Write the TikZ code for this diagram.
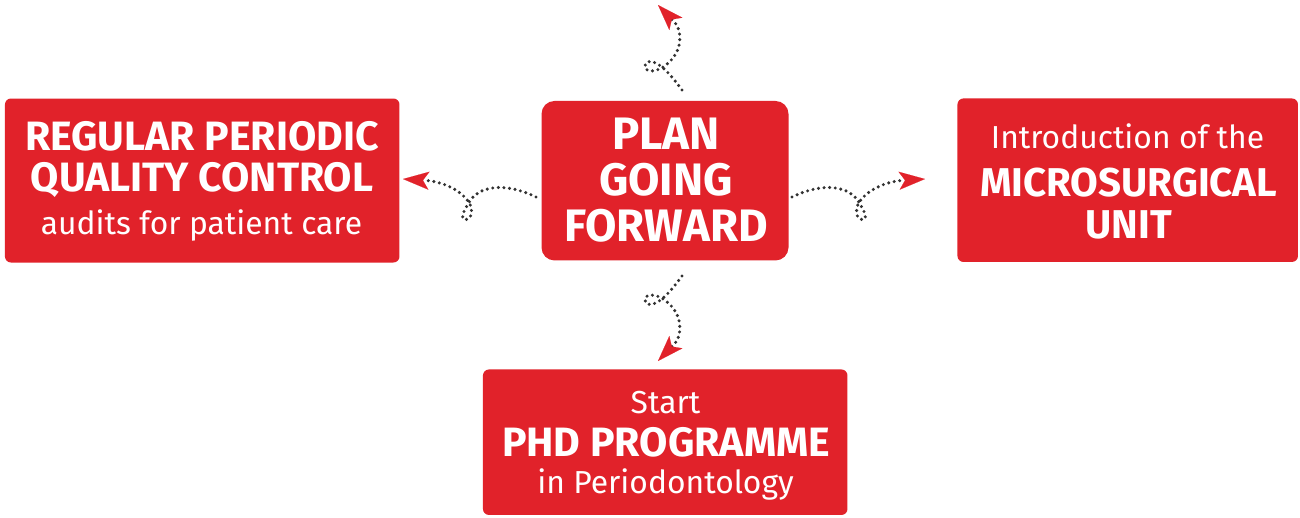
\documentclass[tikz,border=0pt]{standalone}
\usepackage{fontspec}
\setmainfont{Fira Sans}
\usetikzlibrary{arrows.meta}
\definecolor{boxred}{RGB}{225,34,42}
\definecolor{dotgray}{RGB}{50,50,50}
\begin{document}
\begin{tikzpicture}[x=1pt,y=-1pt,
  box/.style={fill=boxred, draw=none, inner sep=0pt, rounded corners=6pt},
  bigtxt/.style={text=white, inner sep=0pt, anchor=base, font=\fontsize{45.5}{50}\selectfont\bfseries},
  boldtxt/.style={text=white, inner sep=0pt, anchor=base, font=\fontsize{41}{46}\selectfont\bfseries},
  plaintxt/.style={text=white, inner sep=0pt, anchor=base, font=\fontsize{31.8}{38}\selectfont},
  conn/.style={draw=dotgray, line width=3.4pt, line cap=round, dash pattern=on 0pt off 5.6pt,
    -{Stealth[length=26pt, width=18pt, inset=6pt, color=boxred, line width=0.1pt]}}
]
\useasboundingbox (0,0) rectangle (1300,517);

% boxes
\node[box, minimum width=394.5pt, minimum height=164pt] (left) at (202.2,180.5) {};
\node[box, rounded corners=13pt, minimum width=247pt, minimum height=159.5pt] (center) at (665,180.7) {};
\node[box, minimum width=340.5pt, minimum height=163.5pt] (right) at (1127.7,180.2) {};
\node[box, minimum width=364.5pt, minimum height=145.5pt] (bottom) at (665.2,442.2) {};

% left texts
\node[boldtxt] (l1) at (202,150) {REGULAR PERIODIC};
\node[boldtxt] (l2) at (202,191.7) {QUALITY CONTROL};
\node[plaintxt] (l3) at (201.5,234.3) {audits for patient care};

% center texts
\node[bigtxt] (c1) at (666,149) {PLAN};
\node[bigtxt] (c2) at (666,195) {GOING};
\node[bigtxt] (c3) at (666,241.7) {FORWARD};

% right texts
\node[plaintxt] (r1) at (1127.5,148.3) {Introduction of the};
\node[boldtxt, font=\fontsize{40.2}{46}\selectfont\bfseries] (r2) at (1128.7,196.7) {MICROSURGICAL};
\node[boldtxt, font=\fontsize{40.2}{46}\selectfont\bfseries] (r3) at (1128.7,238.3) {UNIT};

% bottom texts
\node[plaintxt] (b1) at (665.5,413.3) {Start};
\node[boldtxt] (b2) at (666,456.7) {PHD PROGRAMME};
\node[plaintxt] (b3) at (665.5,493.3) {in Periodontology};

% connector ends
\coordinate (ltail) at (536,197);
\coordinate (lhead) at (403,179);
\coordinate (rtail) at (792,197);
\coordinate (rhead) at (925,179);
\coordinate (ttail) at (682,90);
\coordinate (thead) at (658,5);
\coordinate (btail) at (682,276);
\coordinate (bhead) at (658,361);

\draw[conn] (ltail) .. controls (505,182) and (478,185) .. (468,204)
  .. controls (462,214) and (460,220) .. (466,219.5)
  .. controls (473,219) and (473,207) .. (468,201)
  .. controls (460,190) and (445,183) .. (429,180.7) -- (lhead);

\draw[conn] (rtail) .. controls (823,182) and (850,185) .. (860,204)
  .. controls (866,214) and (868,220) .. (862,219.5)
  .. controls (855,219) and (855,207) .. (860,201)
  .. controls (868,190) and (883,183) .. (899,180.7) -- (rhead);

\draw[conn] (ttail) .. controls (670,74) and (660,62) .. (650,61.5)
  .. controls (643,61.5) and (643,71) .. (651,71)
  .. controls (660,71) and (668,64) .. (673,58)
  .. controls (681,48) and (682,33) .. (676,24) -- (thead);

\draw[conn] (btail) .. controls (670,292) and (660,304) .. (650,304.5)
  .. controls (643,304.5) and (643,295) .. (651,295)
  .. controls (660,295) and (668,302) .. (673,308)
  .. controls (681,318) and (682,333) .. (676,342) -- (bhead);
\end{tikzpicture}
\end{document}
